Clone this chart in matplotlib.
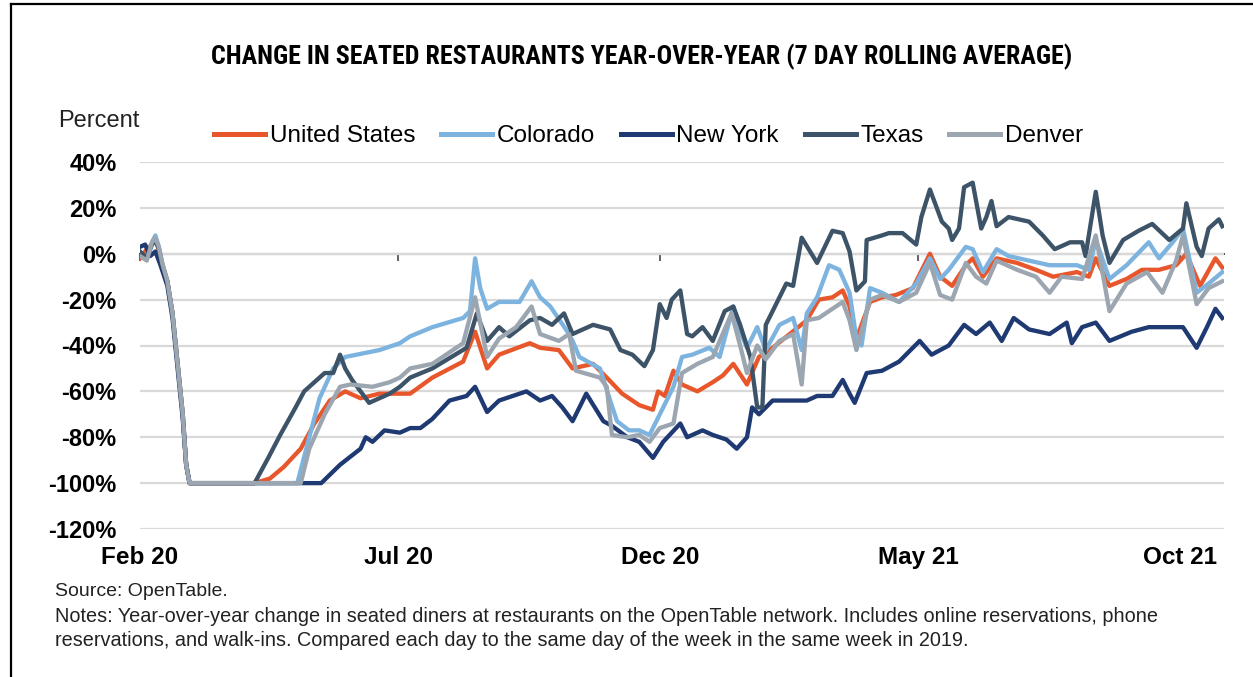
import numpy as np
import pandas as pd
import matplotlib.pyplot as plt
import matplotlib.dates as mdates
from matplotlib import font_manager
from matplotlib.lines import Line2D

plt.rcParams['font.family'] = ['Liberation Sans', 'DejaVu Sans']

START = pd.Timestamp('2020-02-18')

# each series: days since START and percent change vs the same week in 2019
head_days = [0, 4, 7, 9, 11, 13, 16, 19, 22, 25, 27, 29]

us_days = head_days + [67, 76, 84, 94, 102, 111, 120, 129, 140, 152, 158, 171, 189, 196, 203,
                       210, 228, 234, 245, 253, 265, 273, 282, 292, 300, 303, 307, 312, 317,
                       326, 335, 341, 347, 355, 362, 370, 380, 390, 397, 405, 411, 415, 419,
                       427, 434, 442, 452, 462, 468, 475, 483, 487, 493, 501, 513, 524, 534,
                       548, 555, 559, 567, 577, 586, 596, 606, 612, 620, 629, 633]
us_vals = [-2, 2, 4, 6, 2, -5, -12, -26, -48, -70, -92, -100,
           -100, -98, -93, -85, -74, -64, -60, -63, -61, -61, -61, -54, -47, -34, -50,
           -44, -39, -41, -42, -50, -48, -54, -61, -66, -68, -60, -62, -51, -57,
           -60, -56, -53, -48, -57, -45, -41, -35, -29, -20, -19, -16, -23, -37,
           -21, -19, -18, -15, 0, -10, -14, -5, -2, -10, -2, -4, -7, -10,
           -8, -10, -2, -14, -11, -7, -7, -5, 0, -14, -2, -6]

co_days = head_days + [92, 99, 105, 113, 120, 140, 152, 158, 171, 189, 193, 196, 199, 203, 210,
                       222, 229, 234, 240, 250, 253, 257, 269, 275, 279, 286, 292, 298, 304,
                       312, 317, 323, 333, 339, 347, 351, 355, 361, 366, 374, 382, 387, 390,
                       396, 403, 409, 415, 419, 422, 427, 434, 444, 454, 462, 468, 473, 483,
                       487, 493, 501, 508, 520, 532, 548, 555, 559, 567, 577, 590, 596, 604,
                       610, 618, 625, 633]
co_vals = [0, -2, 5, 8, 3, -4, -12, -26, -48, -70, -92, -100,
           -100, -80, -63, -50, -45, -42, -39, -36, -32, -28, -25, -2, -15, -24, -21,
           -21, -12, -19, -23, -34, -38, -45, -50, -64, -73, -77, -77, -79, -70,
           -58, -45, -44, -41, -45, -23, -34, -41, -32, -42, -31, -28, -42, -26,
           -19, -5, -7, -17, -37, -40, -15, -17, -21, -13, -2, -11, -7, 3,
           2, -8, 2, -1, -3, -5, -5, -7, 6, -11, -5, 5, -2, 5,
           11, -17, -13, -8]

ny_days = [0, 3, 6, 9, 12, 16, 19, 22, 25, 27, 29,
           106, 117, 129, 132, 136, 143, 152, 158, 164, 171, 181, 191, 196, 203, 210, 218, 226,
           234, 241, 247, 253, 261, 271, 276, 285, 292, 300, 306, 316, 320, 329, 335, 343, 349,
           355, 358, 362, 370, 380, 390, 396, 405, 411, 415, 418, 425, 434, 444, 456, 463, 473,
           482, 489, 497, 504, 511, 520, 532, 542, 545, 551, 559, 567, 580, 590, 610, 618, 624,
           629, 633]
ny_vals = [3, 4, -1, 1, -5, -14, -28, -50, -72, -92, -100,
           -100, -92, -85, -80, -82, -77, -78, -76, -76, -72, -64, -62, -58, -69, -64, -62, -60,
           -64, -62, -67, -73, -61, -73, -75, -80, -82, -89, -82, -74, -80, -77, -79, -81, -85,
           -80, -67, -70, -64, -64, -64, -62, -62, -55, -61, -65, -52, -51, -47, -38, -44, -40,
           -31, -35, -30, -38, -28, -33, -35, -30, -39, -32, -30, -38, -34, -32, -32, -41, -32,
           -24, -28]

tx_days = head_days + [67, 75, 82, 91, 96, 108, 113, 117, 120, 124, 134, 146, 152, 158, 171,
                       191, 197, 203, 210, 216, 228, 234, 241, 248, 253, 265, 275, 281, 288,
                       295, 300, 304, 308, 311, 316, 320, 323, 329, 335, 342, 347, 351, 357,
                       361, 364, 366, 370, 378, 382, 387, 396, 405, 411, 415, 419, 424, 425,
                       434, 438, 446, 454, 457, 462, 466, 469, 473, 475, 479, 482, 487, 490,
                       492, 495, 498, 501, 508, 520, 528, 535, 544, 551, 553, 559, 563, 567,
                       575, 584, 592, 602, 610, 612, 618, 621, 625, 631, 633]
tx_vals = [1, -2, 4, 6, 2, -5, -12, -26, -48, -70, -92, -100,
           -100, -89, -79, -67, -60, -52, -52, -44, -50, -55, -65, -61, -58, -54, -50,
           -41, -26, -38, -32, -36, -29, -28, -31, -26, -35, -31, -33, -42, -44,
           -49, -42, -22, -28, -20, -16, -35, -36, -32, -38, -25, -23, -31, -45,
           -67, -67, -31, -25, -13, -14, 7, -4, 10, 9, 1, -16, -12, 6,
           8, 9, 9, 4, 16, 28, 20, 14, 11, 6, 11, 29, 31, 19,
           11, 16, 23, 12, 16, 14, 8, 2, 5, 5, -1, 27, 8, -4,
           6, 10, 13, 6, 11, 22, 3, -1, 11, 15, 12]

dn_days = head_days + [94, 99, 108, 117, 123, 136, 146, 152, 158, 171, 189, 196, 203, 210, 220,
                       229, 234, 245, 251, 255, 269, 273, 276, 285, 292, 298, 304, 312, 317,
                       326, 335, 346, 351, 355, 361, 366, 374, 382, 387, 390, 397, 405, 411,
                       415, 419, 427, 434, 444, 454, 462, 468, 475, 483, 489, 495, 501, 513,
                       524, 532, 539, 551, 559, 567, 577, 589, 598, 606, 610, 618, 625, 633]
dn_vals = [-1, -3, 5, 7, 3, -4, -12, -26, -48, -70, -92, -100,
           -100, -85, -70, -58, -57, -58, -56, -54, -50, -48, -39, -19, -45, -37, -32,
           -23, -35, -38, -35, -51, -54, -58, -79, -80, -79, -82, -76, -74, -52,
           -48, -45, -26, -40, -52, -40, -46, -38, -35, -57, -29, -28, -24, -21,
           -29, -42, -20, -18, -21, -17, -4, -18, -20, -4, -10, -13, -3, -7,
           -10, -17, -10, -11, 8, -25, -13, -8, -17, -3, 8, -22, -15, -12]

series_names = ['United States', 'Colorado', 'New York', 'Texas', 'Denver']
series_colors = ['#E8572B', '#7DB3DF', '#1F3A72', '#3D5367', '#9BA6B1']

tick_dates = pd.to_datetime(['2020-02-18', '2020-07-18', '2020-12-18', '2021-05-18', '2021-10-18'])
y_ticks = list(range(-120, 41, 20))


def to_dates(days):
    return START + pd.to_timedelta(days, unit='D')


W, H = 1253, 677
fig = plt.figure(figsize=(W / 100, H / 100), dpi=100)
ax = fig.add_axes([140 / W, 1 - 529 / H, (1224 - 140) / W, (529 - 162) / H])

data = [(us_days, us_vals), (co_days, co_vals), (ny_days, ny_vals),
        (tx_days, tx_vals), (dn_days, dn_vals)]
for (d, v), name, c in zip(data, series_names, series_colors):
    ax.plot(to_dates(d), v, color=c, lw=3.1, label=name, solid_joinstyle='round', zorder=3)

ax.set_ylim(-120, 40)
ax.set_xlim(START, to_dates([634])[0])
ax.set_yticks(y_ticks)
ax.set_yticklabels([f'{v}%' for v in y_ticks])
ax.set_xticks(tick_dates)
ax.xaxis.set_major_formatter(mdates.DateFormatter('%b %y'))
ax.tick_params(axis='y', length=0, pad=17, labelsize=17)
ax.tick_params(axis='x', length=0, pad=12, labelsize=17.5)
for lab in ax.get_xticklabels() + ax.get_yticklabels():
    lab.set_fontweight('bold')
for s in ax.spines.values():
    s.set_visible(False)
ax.yaxis.grid(True, color='#d9d9d9', lw=1.6)
ax.set_axisbelow(True)

# zero line with small tick marks hanging below it
zero_pos = (0 - (-120)) / 160
zax = ax.secondary_xaxis(zero_pos)
zax.set_xticks(tick_dates)
zax.tick_params(direction='in', length=5, width=1.3, color='#555555',
                labeltop=False, labelbottom=False)
for s in zax.spines.values():
    s.set_color('#555555')
    s.set_linewidth(1.5)

fig.text(58 / W, 1 - 121 / H, 'Percent', va='center', ha='left', fontsize=17, color='#222222')

leg = fig.legend(loc='center left', bbox_to_anchor=(214 / W, 1 - 136 / H), ncol=5,
                 frameon=False, fontsize=17.5, handlelength=2.1, handletextpad=0.2,
                 columnspacing=1.05, borderpad=0, borderaxespad=0)
for h in leg.get_lines():
    h.set_linewidth(3.6)

# title in a narrow bold face when one is available
names = {f.name for f in font_manager.fontManager.ttflist}
tfam, tstretch, twidth = 'DejaVu Sans', 'condensed', 880
for cand in ['Liberation Sans Narrow', 'Roboto Condensed', 'Open Sans Condensed']:
    if cand in names:
        tfam, tstretch, twidth = cand, 'normal', 860
        break
title = fig.text(642 / W, 1 - 57 / H,
                 'CHANGE IN SEATED RESTAURANTS YEAR-OVER-YEAR (7 DAY ROLLING AVERAGE)',
                 ha='center', va='center', fontsize=19, fontweight='bold',
                 family=tfam, fontstretch=tstretch)
fig.canvas.draw()
tw = title.get_window_extent().width
title.set_fontsize(19 * twidth / tw)

fig.text(55 / W, 1 - 592 / H, 'Source: OpenTable.', va='center', fontsize=14, color='#222222')
fig.text(55 / W, 1 - 616 / H,
         'Notes: Year-over-year change in seated diners at restaurants on the OpenTable network. '
         'Includes online reservations, phone', va='center', fontsize=14.3, color='#222222')
fig.text(55 / W, 1 - 640 / H,
         'reservations, and walk-ins. Compared each day to the same day of the week in the same '
         'week in 2019.', va='center', fontsize=14.3, color='#222222')

# page frame: top and left rules
fig.add_artist(Line2D([11 / W, 11 / W], [0, 1 - 4 / H], transform=fig.transFigure,
                      color='black', lw=1.6))
fig.add_artist(Line2D([11 / W, 1], [1 - 4 / H, 1 - 4 / H], transform=fig.transFigure,
                      color='black', lw=1.6))

fig.savefig('out.png', dpi=100)
